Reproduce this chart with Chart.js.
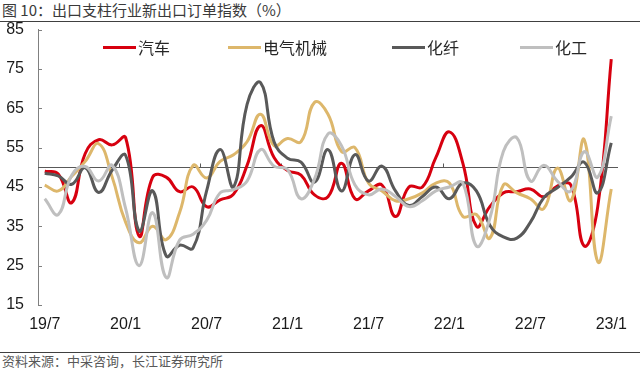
<!DOCTYPE html>
<html>
<head>
<meta charset="utf-8">
<script src="https://cdn.jsdelivr.net/npm/chart.js@4"></script>
<style>
  body { margin: 0; background: #fff; }
  #wrap { position: relative; width: 640px; height: 370px; overflow: hidden; font-family: "Noto Sans CJK SC", sans-serif; }
  #title { position: absolute; left: 2px; top: 0; font-size: 15px; line-height: 20px; color: #3a3a3a; }
  .rule { position: absolute; left: 0; width: 640px; height: 1px; background: #404040; }
  #chartBox { position: absolute; left: 0; top: 20px; width: 640px; height: 330px; }
  .item { position: absolute; top: 37px; height: 20px; display: flex; align-items: center; font-size: 16px; color: #262626; white-space: nowrap; }
  .swatch { width: 33px; height: 3px; margin-right: 2px; }
  #source { position: absolute; left: 2px; top: 353px; font-size: 13px; line-height: 16px; color: #595959; }
</style>
</head>
<body>
<div id="wrap">
  <div id="title">图 10：出口支柱行业新出口订单指数（%）</div>
  <div class="rule" style="top:21px"></div>
  <div id="chartBox"><canvas id="myChart"></canvas></div>
  <div id="legend"></div>
  <div class="rule" style="top:352px"></div>
  <div id="source">资料来源：中采咨询，长江证券研究所</div>
</div>
<script>
const months = ['19/7','19/8','19/9','19/10','19/11','19/12',
  '20/1','20/2','20/3','20/4','20/5','20/6','20/7','20/8','20/9','20/10','20/11','20/12',
  '21/1','21/2','21/3','21/4','21/5','21/6','21/7','21/8','21/9','21/10','21/11','21/12',
  '22/1','22/2','22/3','22/4','22/5','22/6','22/7','22/8','22/9','22/10','22/11','22/12',
  '23/1'];

// 新出口订单指数, monthly
const car = [49, 48.3, 41, 53.5, 57, 55.7, 57.5, 32.5, 47.5, 47.5, 43.8, 45, 40, 41.7, 43.2, 50.5, 60.6, 52.5, 49.2, 48, 43, 42.5, 51, 42, 44, 45.5, 37.5, 45, 45, 52.5, 59, 51, 35, 40, 43.5, 43.8, 44.5, 42.5, 45.2, 45.5, 30, 40, 77.5];
const electric = [45.5, 44, 47.7, 51.5, 56, 47.5, 36, 30.8, 35, 31.6, 38.5, 50.5, 47.3, 51.5, 53.2, 56.5, 63.5, 55.5, 57.3, 56.5, 66.5, 63.5, 54, 55, 46, 44, 41.5, 42, 43.5, 46, 46, 37.5, 38, 32, 45.5, 43.5, 42, 39.5, 49.8, 41.5, 57, 26, 44.5];
const fiber = [48.5, 47.8, 45.7, 49.9, 43.6, 49.3, 53, 33.8, 44, 27.5, 30.2, 29.5, 44, 54.5, 45, 66, 71.5, 56.5, 52.3, 51.3, 46.2, 54.5, 44, 53.2, 46.5, 50.3, 44, 40.3, 42.6, 45, 42, 46, 44, 35.3, 32.3, 32, 36, 42.3, 44.8, 47.5, 51.3, 43.5, 56.2];
const chem = [42, 38, 48, 50.2, 46.5, 50.5, 39.5, 25, 38.5, 22, 31.5, 33, 36.5, 43.5, 44.3, 46.5, 54.5, 50.3, 49.4, 42, 47, 58.5, 55.5, 45.5, 43, 44.5, 42.6, 40, 41.5, 44, 45, 46, 30, 37, 54, 57.5, 46.5, 50.5, 46.5, 44, 54, 47.5, 63];

const seriesNames = ['汽车', '电气机械', '化纤', '化工'];
const seriesColors = ['#D7000F', '#DDB76B', '#595959', '#BFBFBF'];
const legendX = [103, 228, 392, 520];

// legend inside the plot area, like the original
const legend = document.getElementById('legend');
seriesNames.forEach((name, i) => {
  const div = document.createElement('div');
  div.className = 'item';
  div.style.left = legendX[i] + 'px';
  div.innerHTML = `<span class="swatch" style="background:${seriesColors[i]}"></span>${name}`;
  legend.appendChild(div);
});

// 50 line with half-year ticks, inward ticks on the y axis
const axisMarks = {
  id: 'axisMarks',
  beforeDatasetsDraw(chart) {
    const { ctx, chartArea, scales: { x, y } } = chart;
    ctx.save();
    ctx.lineWidth = 1;
    ctx.strokeStyle = '#595959';
    const y50 = Math.round(y.getPixelForValue(50)) + 0.5;
    const half = (x.getPixelForValue(1) - x.getPixelForValue(0)) / 2;
    ctx.beginPath();
    ctx.moveTo(chartArea.left, y50);
    ctx.lineTo(chartArea.right, y50);
    for (let i = 6; i < months.length; i += 6) {
      const px = Math.round(x.getPixelForValue(i) - half) + 0.5;
      ctx.moveTo(px, y50);
      ctx.lineTo(px, y50 - 4);
    }
    ctx.stroke();
    ctx.strokeStyle = '#808080';
    ctx.beginPath();
    y.ticks.forEach(t => {
      const py = Math.round(y.getPixelForValue(t.value)) + 0.5;
      ctx.moveTo(chartArea.left, py);
      ctx.lineTo(chartArea.left + 4, py);
    });
    ctx.stroke();
    ctx.restore();
  }
};

const tickFont = { family: '"Liberation Sans", Arial, sans-serif', size: 16 };
const allSeries = [car, electric, fiber, chem];

const ctx = document.getElementById('myChart').getContext('2d');
new Chart(ctx, {
  type: 'line',
  data: {
    labels: months,
    datasets: allSeries.map((data, i) => ({
      label: seriesNames[i],
      data: data,
      borderColor: seriesColors[i],
      borderWidth: 3,
      pointRadius: 0,
      tension: 0.45,
      fill: false,
      order: allSeries.length - i
    }))
  },
  options: {
    responsive: true,
    maintainAspectRatio: false,
    animation: false,
    layout: { padding: { top: 0, right: 22, left: 0, bottom: 0 } },
    plugins: { legend: { display: false }, tooltip: { enabled: false } },
    scales: {
      x: {
        offset: true,
        grid: { display: false, drawTicks: false },
        border: { display: false },
        ticks: {
          autoSkip: false,
          maxRotation: 0,
          padding: 10,
          color: '#1a1a1a',
          font: tickFont,
          callback: (value, index) => index % 6 === 0 ? months[index] : ''
        },
        afterFit: s => { s.height = 45; }
      },
      y: {
        min: 15,
        max: 85,
        // invisible tick marks push the labels away from the axis
        grid: { drawOnChartArea: false, drawTicks: true, tickLength: 14, color: 'rgba(0,0,0,0)' },
        border: { display: true, color: '#808080', width: 1 },
        ticks: { stepSize: 10, padding: 0, color: '#1a1a1a', font: tickFont },
        afterFit: s => { s.width = 38; }
      }
    }
  },
  plugins: [axisMarks]
});
</script>
</body>
</html>
